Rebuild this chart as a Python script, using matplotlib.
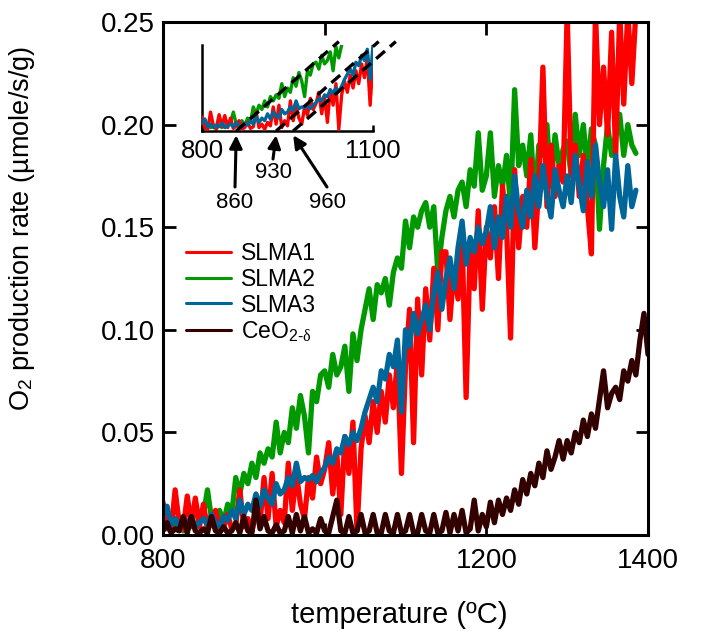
import numpy as np
import matplotlib
matplotlib.use('Agg')
import matplotlib.pyplot as plt

plt.rcParams['font.family'] = ['Liberation Sans', 'DejaVu Sans']
plt.rcParams['mathtext.fontset'] = 'custom'
plt.rcParams['mathtext.rm'] = 'Liberation Sans'
plt.rcParams['mathtext.it'] = 'Liberation Serif'
plt.rcParams['mathtext.bf'] = 'Liberation Sans:bold'

# ---------------- data ----------------
temp_slma = np.arange(800, 1390, 5)    # 800 ... 1385 degC
temp_ceo2 = np.arange(800, 1405, 5)    # 800 ... 1400 degC

slma1 = [
    0.016, 0.004, 0.002, 0.022, 0.006, 0.003, 0.019, 0.005, 0.018, 0.004,
    0.015, 0.003, 0.006, 0.012, 0.002, 0.004, 0.010, 0.003, 0.005, 0.022,
    0.004, 0.008, 0.002, 0.010, 0.006, 0.028, 0.008, 0.030, 0.004, 0.012,
    0.006, 0.035, 0.012, 0.030, 0.015, 0.008, 0.028, 0.018, 0.038, 0.025,
    0.032, 0.045, 0.020, 0.040, 0.010, 0.048, 0.030, 0.055, 0.002, 0.042,
    0.058, 0.045, 0.065, 0.050, 0.070, 0.055, 0.078, 0.062, 0.085, 0.030,
    0.082, 0.110, 0.045, 0.115, 0.078, 0.120, 0.095, 0.130, 0.100, 0.138,
    0.138, 0.105, 0.130, 0.115, 0.145, 0.067, 0.140, 0.120, 0.158, 0.110,
    0.150, 0.135, 0.160, 0.125, 0.170, 0.150, 0.096, 0.178, 0.140, 0.165,
    0.150, 0.183, 0.140, 0.170, 0.228, 0.160, 0.190, 0.165, 0.180, 0.172,
    0.255, 0.175, 0.190, 0.165, 0.185, 0.160, 0.137, 0.255, 0.200, 0.228,
    0.195, 0.245, 0.185, 0.255, 0.210, 0.255, 0.220, 0.255,
]
slma2 = [
    0.005, 0.003, 0.008, 0.004, 0.006, 0.002, 0.007, 0.004, 0.016, 0.006,
    0.010, 0.022, 0.008, 0.004, 0.012, 0.006, 0.015, 0.010, 0.028, 0.020,
    0.030, 0.025, 0.035, 0.028, 0.040, 0.035, 0.042, 0.038, 0.055, 0.040,
    0.050, 0.045, 0.062, 0.052, 0.068, 0.058, 0.040, 0.070, 0.065, 0.078,
    0.080, 0.072, 0.088, 0.078, 0.082, 0.092, 0.070, 0.098, 0.085, 0.100,
    0.110, 0.120, 0.105, 0.122, 0.118, 0.125, 0.112, 0.128, 0.135, 0.130,
    0.153, 0.140, 0.155, 0.150, 0.158, 0.162, 0.150, 0.160, 0.128, 0.145,
    0.158, 0.165, 0.155, 0.168, 0.172, 0.160, 0.178, 0.170, 0.196, 0.168,
    0.175, 0.196, 0.165, 0.180, 0.170, 0.185, 0.160, 0.217, 0.180, 0.190,
    0.175, 0.195, 0.163, 0.190, 0.185, 0.200, 0.170, 0.195, 0.180, 0.188,
    0.192, 0.175, 0.205, 0.185, 0.200, 0.178, 0.198, 0.190, 0.149, 0.180,
    0.200, 0.185, 0.195, 0.205, 0.185, 0.200, 0.190, 0.186,
]
slma3 = [
    0.010, 0.014, 0.005, 0.008, 0.004, 0.007, 0.005, 0.009, 0.004, 0.006,
    0.008, 0.005, 0.010, 0.006, 0.004, 0.009, 0.007, 0.012, 0.008, 0.017,
    0.010, 0.015, 0.012, 0.020, 0.014, 0.022, 0.018, 0.015, 0.025, 0.020,
    0.022, 0.028, 0.024, 0.035, 0.026, 0.028, 0.027, 0.029, 0.026, 0.030,
    0.033, 0.038, 0.035, 0.042, 0.040, 0.048, 0.044, 0.050, 0.046, 0.052,
    0.060, 0.066, 0.072, 0.065, 0.080, 0.076, 0.088, 0.082, 0.095, 0.060,
    0.100, 0.092, 0.108, 0.098, 0.105, 0.112, 0.100, 0.118, 0.128, 0.110,
    0.125, 0.135, 0.120, 0.140, 0.153, 0.132, 0.145, 0.138, 0.150, 0.142,
    0.148, 0.160, 0.140, 0.155, 0.145, 0.165, 0.150, 0.175, 0.158, 0.150,
    0.168, 0.155, 0.175, 0.160, 0.180, 0.165, 0.155, 0.178, 0.168, 0.160,
    0.175, 0.162, 0.185, 0.170, 0.158, 0.182, 0.165, 0.190, 0.172, 0.160,
    0.178, 0.149, 0.185, 0.165, 0.155, 0.180, 0.160, 0.168,
]
ceo2 = [
    0.002, 0.006, 0.001, 0.003, 0.002, 0.009, 0.001, 0.009, 0.002, 0.001,
    0.003, 0.001, 0.009, 0.002, 0.001, 0.004, 0.001, 0.002, 0.006, 0.001,
    0.009, 0.002, 0.001, 0.017, 0.003, 0.009, 0.002, 0.001, 0.005, 0.001,
    0.002, 0.009, 0.001, 0.010, 0.002, 0.009, 0.001, 0.003, 0.001, 0.008,
    0.002, 0.001, 0.009, 0.017, 0.002, 0.001, 0.009, 0.001, 0.002, 0.010,
    0.001, 0.002, 0.010, 0.001, 0.001, 0.010, 0.002, 0.001, 0.010, 0.001,
    0.002, 0.010, 0.001, 0.001, 0.010, 0.002, 0.001, 0.010, 0.001, 0.002,
    0.011, 0.001, 0.010, 0.002, 0.012, 0.001, 0.003, 0.017, 0.002, 0.010,
    0.004, 0.016, 0.006, 0.017, 0.010, 0.018, 0.012, 0.022, 0.015, 0.027,
    0.020, 0.030, 0.024, 0.035, 0.028, 0.041, 0.032, 0.038, 0.046, 0.037,
    0.046, 0.040, 0.050, 0.045, 0.056, 0.048, 0.059, 0.052, 0.066, 0.080,
    0.062, 0.069, 0.072, 0.066, 0.080, 0.075, 0.085, 0.078, 0.095, 0.108,
    0.088,
]

labels = ['SLMA1', 'SLMA2', 'SLMA3', r'CeO$_{2\text{-}\delta}$']
colors = ['#ff0000', '#009900', '#00669a', '#330000']
zorders = [3, 2, 4, 5]

onset_temps = [860, 930, 960]
x_ticks = [800, 1000, 1200, 1400]
y_ticks = [0.00, 0.05, 0.10, 0.15, 0.20, 0.25]
inset_ticks = [800, 1100]

# ---------------- figure ----------------
W, H = 715, 633
fig = plt.figure(figsize=(W / 100, H / 100), dpi=100)

def fbox(l, t, r, b):
    return [l / W, 1 - b / H, (r - l) / W, (b - t) / H]

ax = fig.add_axes(fbox(163, 22, 648, 535))
series = [(temp_slma, slma1), (temp_slma, slma2), (temp_slma, slma3), (temp_ceo2, ceo2)]
for (tx, vals), lab, c, z in zip(series, labels, colors, zorders):
    ax.plot(tx, vals, color=c, lw=3.8, label=lab, zorder=z,
            solid_joinstyle='round', solid_capstyle='round')

ax.set_xlim(800, 1400)
ax.set_ylim(0, 0.25)
ax.set_xticks(x_ticks)
ax.set_yticks(y_ticks)
ax.set_yticklabels([f'{v:.2f}' for v in y_ticks])
ax.tick_params(direction='in', length=9, width=2, top=True, right=True, labelsize=20)
ax.tick_params(axis='x', pad=9)
ax.tick_params(axis='y', pad=6)
for s in ax.spines.values():
    s.set_linewidth(2.2)
    s.set_zorder(10)

ax.set_xlabel('temperature (ºC)', fontsize=21)
ax.set_ylabel(r'O$_2$ production rate (µmole/s/g)', fontsize=19.5)
ax.xaxis.set_label_coords(0.488, -0.128)
ax.yaxis.set_label_coords(-0.26, 0.598)

leg = ax.legend(loc='upper left', bbox_to_anchor=(186 / W, 1 - 242 / H),
                bbox_transform=fig.transFigure, frameon=False, fontsize=16.5,
                handlelength=1.95, handletextpad=0.45, labelspacing=0.12,
                borderpad=0, borderaxespad=0)
for ln in leg.get_lines():
    ln.set_linewidth(2.2)

# ---------------- inset ----------------
axin = fig.add_axes(fbox(202, 45, 373, 131))
for (tx, vals), c, z in zip(series[:3], colors[:3], zorders[:3]):
    axin.plot(tx, vals, color=c, lw=2.4, zorder=z, solid_joinstyle='round')
axin.set_xlim(800, 1100)
axin.set_ylim(0, 0.1)
axin.patch.set_alpha(0)
axin.spines['top'].set_visible(False)
axin.spines['right'].set_visible(False)
axin.spines['left'].set_linewidth(1.8)
axin.spines['bottom'].set_linewidth(1.8)
axin.set_yticks([])
axin.set_xticks(inset_ticks)
axin.tick_params(axis='x', direction='in', length=4, width=1.8, labelsize=18.5, pad=6)

for t0 in onset_temps:
    axin.plot([t0, t0 + 180], [0, 0.104], color='black', lw=2.4,
              dashes=(3.5, 2.0), clip_on=False, zorder=6)

tails = [(235, 187), (273, 159), (327, 187)]
texts = [(235, 202), (273, 173), (327, 202)]
for t0, (tx, ty), (lx, ly) in zip(onset_temps, tails, texts):
    axin.annotate('', xy=(t0, -0.005), xycoords='data',
                  xytext=(tx, H - ty), textcoords='figure pixels',
                  arrowprops=dict(arrowstyle='-|>', lw=2.2, color='black',
                                  mutation_scale=19, shrinkA=0, shrinkB=0),
                  annotation_clip=False)
    fig.text(lx / W, 1 - ly / H, str(t0), ha='center', va='center', fontsize=16)

fig.savefig('out.png', dpi=100)
